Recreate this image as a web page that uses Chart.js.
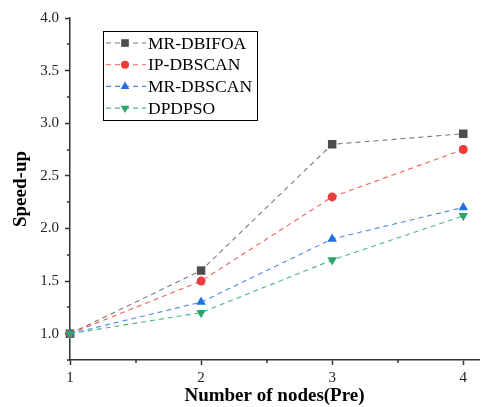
<!DOCTYPE html>
<html>
<head>
<meta charset="utf-8">
<script src="https://cdn.jsdelivr.net/npm/chart.js@4/dist/chart.umd.min.js"></script>
<style>
  html, body { margin: 0; padding: 0; background: #fff; }
  canvas { display: block; }
</style>
</head>
<body>
<canvas id="speedup" width="485" height="407"></canvas>
<script>
// valores
const nodes = [1, 2, 3, 4];
const xTicks = [1, 1.5, 2, 2.5, 3, 3.5, 4];
const yTicks = [0.75, 1, 1.25, 1.5, 1.75, 2, 2.25, 2.5, 2.75, 3, 3.25, 3.5, 3.75, 4];
const mrDbifoa = [1.0, 1.6, 2.8, 2.9];
const ipDbscan = [1.0, 1.5, 2.3, 2.75];
const mrDbscan = [1.0, 1.3, 1.9, 2.2];
const dpdpso = [1.0, 1.2, 1.7, 2.12];
const seriesNames = ['MR-DBIFOA', 'IP-DBSCAN', 'MR-DBSCAN', 'DPDPSO'];

const SERIF = "'Liberation Serif', 'Times New Roman', serif";

const toPoints = (vals) => nodes.map((n, i) => ({ x: n, y: vals[i] }));
const isMajorX = (v) => Number.isInteger(v);
const isMajorY = (v) => Math.abs(v * 2 - Math.round(v * 2)) < 1e-6;

function makeSet(label, vals, line, fill, style, radius, rotation, order) {
    return {
        label,
        data: toPoints(vals),
        borderColor: line,
        borderWidth: 1.1,
        borderDash: [5, 4],
        backgroundColor: fill,
        pointBackgroundColor: fill,
        pointBorderColor: fill,
        pointBorderWidth: 0,
        pointStyle: style,
        pointRadius: radius,
        pointRotation: rotation,
        tension: 0,
        clip: false,
        order
    };
}

const datasets = [
    makeSet(seriesNames[0], mrDbifoa, '#7a7a7a', '#4d4d4d', 'rect', 6, 0, 4),
    makeSet(seriesNames[1], ipDbscan, '#ee6262', '#ef3b3b', 'circle', 4.5, 0, 3),
    makeSet(seriesNames[2], mrDbscan, '#4a8aec', '#1f6fe0', 'triangle', 5.5, 0, 2),
    makeSet(seriesNames[3], dpdpso, '#4cb57f', '#2ea66b', 'triangle', 5.5, 180, 1)
];

// ticks menores (más cortos) dibujados a mano
const minorTicks = {
    id: 'minorTicks',
    afterDraw(chart) {
        const ctx = chart.ctx;
        const xs = chart.scales.x;
        const ys = chart.scales.y;
        ctx.save();
        ctx.fillStyle = '#333';
        yTicks.filter(v => !isMajorY(v)).forEach(v => {
            const py = Math.round(ys.getPixelForValue(v));
            ctx.fillRect(xs.left - 3, py - 0.75, 3, 1.5);
        });
        xTicks.filter(v => !isMajorX(v)).forEach(v => {
            const px = Math.round(xs.getPixelForValue(v));
            ctx.fillRect(px - 0.75, ys.bottom, 1.5, 3);
        });
        ctx.restore();
    }
};

// leyenda con marco
const boxLegend = {
    id: 'boxLegend',
    afterDraw(chart) {
        const ctx = chart.ctx;
        const bx = 103, by = 31, bw = 154, bh = 89;
        ctx.save();
        ctx.fillStyle = '#fff';
        ctx.fillRect(bx, by, bw, bh);
        ctx.strokeStyle = '#000';
        ctx.lineWidth = 1;
        ctx.strokeRect(bx + 0.5, by + 0.5, bw, bh);
        ctx.font = '17.5px ' + SERIF;
        ctx.textBaseline = 'middle';
        datasets.forEach((ds, i) => {
            const ry = 43 + i * 21.7;
            ctx.strokeStyle = ds.borderColor;
            ctx.lineWidth = 1.1;
            ctx.setLineDash([5, 4]);
            ctx.beginPath();
            ctx.moveTo(bx + 3, ry);
            ctx.lineTo(bx + 43, ry);
            ctx.stroke();
            ctx.setLineDash([]);
            ctx.fillStyle = ds.pointBackgroundColor;
            ctx.strokeStyle = ds.pointBackgroundColor;
            Chart.helpers.drawPoint(ctx, {
                pointStyle: ds.pointStyle,
                rotation: ds.pointRotation,
                radius: ds.pointRadius * 0.9,
                borderWidth: 0
            }, bx + 22, ry);
            ctx.fillStyle = '#000';
            ctx.fillText(ds.label, bx + 45, ry + 1);
        });
        ctx.restore();
    }
};

new Chart(document.getElementById('speedup'), {
    type: 'line',
    data: { datasets },
    plugins: [minorTicks, boxLegend],
    options: {
        responsive: false,
        animation: false,
        layout: { padding: { top: 18, right: 0, left: 0, bottom: 0 } },
        plugins: {
            legend: { display: false },
            tooltip: { enabled: false }
        },
        scales: {
            x: {
                type: 'linear',
                min: 1,
                max: 4.12,
                afterBuildTicks: (scale) => { scale.ticks = xTicks.map(v => ({ value: v })); },
                afterFit: (scale) => { scale.height = 47; },
                grid: {
                    display: true,
                    drawOnChartArea: false,
                    drawTicks: true,
                    tickLength: 5,
                    tickWidth: 1.5,
                    tickColor: (c) => isMajorX(c.tick.value) ? '#333' : 'rgba(0,0,0,0)'
                },
                border: { display: true, color: '#333', width: 1.5 },
                ticks: {
                    padding: 4,
                    color: '#222',
                    autoSkip: false,
                    maxRotation: 0,
                    font: { family: SERIF, size: 15 },
                    callback: (v) => isMajorX(v) ? String(v) : ''
                },
                title: {
                    display: true,
                    text: 'Number of nodes(Pre)',
                    color: '#000',
                    padding: { top: 0, bottom: 0 },
                    font: { family: SERIF, size: 19, weight: 'bold', lineHeight: 1.2 }
                }
            },
            y: {
                min: 0.75,
                max: 4.0,
                afterBuildTicks: (scale) => { scale.ticks = yTicks.map(v => ({ value: v })); },
                afterFit: (scale) => { scale.width = 70; },
                grid: {
                    display: true,
                    drawOnChartArea: false,
                    drawTicks: true,
                    tickLength: 5,
                    tickWidth: 1.5,
                    tickColor: (c) => isMajorY(c.tick.value) ? '#333' : 'rgba(0,0,0,0)'
                },
                border: { display: true, color: '#333', width: 1.5 },
                ticks: {
                    padding: 6,
                    color: '#222',
                    autoSkip: false,
                    font: { family: SERIF, size: 15 },
                    callback: (v) => isMajorY(v) ? Number(v).toFixed(1) : ''
                },
                title: {
                    display: true,
                    text: 'Speed-up',
                    color: '#000',
                    padding: { top: 10, bottom: 0 },
                    font: { family: SERIF, size: 19, weight: 'bold', lineHeight: 1.2 }
                }
            }
        }
    }
});
</script>
</body>
</html>
